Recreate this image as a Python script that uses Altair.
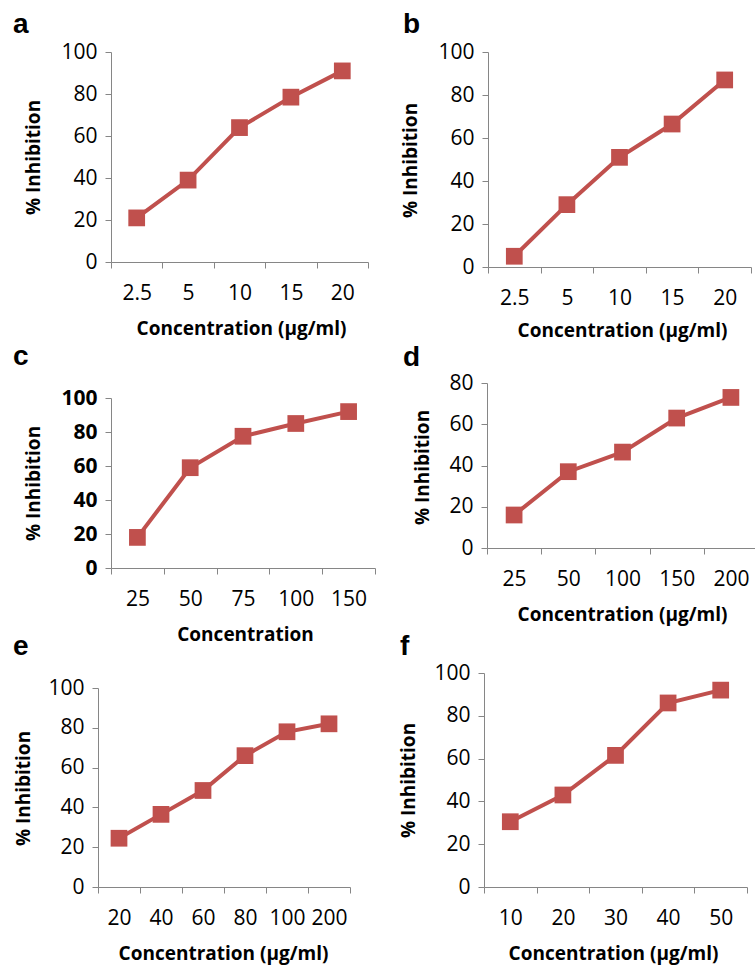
import altair as alt
import pandas as pd

FONT = "Open Sans"
LETTER_FONT = "Liberation Sans"
RED = "#C0504D"
GRAY = "#868686"
W, H = 755, 965

# ---------------- data ----------------
letters = ["a", "b", "c", "d", "e", "f"]

a_conc = ["2.5", "5", "10", "15", "20"]
a_inh = [21, 39, 64, 78.5, 91]

b_conc = ["2.5", "5", "10", "15", "20"]
b_inh = [5, 29, 51, 66.5, 87]

c_conc = ["25", "50", "75", "100", "150"]
c_inh = [18, 59, 77.5, 85, 92]

d_conc = ["25", "50", "100", "150", "200"]
d_inh = [16, 37, 46.5, 63, 73]

e_conc = ["20", "40", "60", "80", "100", "200"]
e_inh = [24.5, 36.5, 48.5, 66, 78, 82]

f_conc = ["10", "20", "30", "40", "50"]
f_inh = [30.5, 43, 61.5, 86, 92]

ticks_100 = [0, 20, 40, 60, 80, 100]
ticks_80 = [0, 20, 40, 60, 80]

x_title_units = "Concentration (\u03bcg/ml)"
x_title_plain = "Concentration"
y_title = "% Inhibition"

# ---------------- layout (pixels) ----------------
panels = [
    dict(cats=a_conc, vals=a_inh, ymax=100, ticks=ticks_100, x0=111, x1=368, yt=52, yb=262,
         xtitle=x_title_units, xt=(241, 328), ytc=(33, 157), bold=False),
    dict(cats=b_conc, vals=b_inh, ymax=100, ticks=ticks_100, x0=488, x1=751, yt=52, yb=267,
         xtitle=x_title_units, xt=(622, 330), ytc=(410, 160), bold=False),
    dict(cats=c_conc, vals=c_inh, ymax=100, ticks=ticks_100, x0=111, x1=375, yt=398, yb=568,
         xtitle=x_title_plain, xt=(245, 634), ytc=(33, 483), bold=True),
    dict(cats=d_conc, vals=d_inh, ymax=80, ticks=ticks_80, x0=487, x1=758, yt=383, yb=548,
         xtitle=x_title_units, xt=(622, 614), ytc=(422, 467), bold=False),
    dict(cats=e_conc, vals=e_inh, ymax=100, ticks=ticks_100, x0=98, x1=350, yt=688, yb=887,
         xtitle=x_title_units, xt=(223, 953), ytc=(23, 788), bold=False),
    dict(cats=f_conc, vals=f_inh, ymax=100, ticks=ticks_100, x0=484, x1=747, yt=673, yb=887,
         xtitle=x_title_units, xt=(613, 953), ytc=(408, 780), bold=False),
]

letter_pos = [(13, 33), (403, 33), (13, 365), (403, 366), (13, 655), (400, 655)]

layers = []
for p in panels:
    df = pd.DataFrame({"conc": p["cats"], "inh": p["vals"]})
    x = alt.X(
        "conc:N",
        sort=p["cats"],
        scale=alt.Scale(type="band", paddingInner=0, paddingOuter=0, range=[p["x0"], p["x1"]]),
        axis=alt.Axis(
            orient="bottom",
            offset=p["yb"] - H,
            title=p["xtitle"],
            titleX=p["xt"][0],
            titleY=p["xt"][1] - p["yb"],
            titleAlign="center",
            titleBaseline="middle",
            tickBand="extent",
            labelAngle=0,
            labelBaseline="middle",
            labelPadding=25,
            labelOverlap=False,
        ),
    )
    y = alt.Y(
        "inh:Q",
        scale=alt.Scale(domain=[0, p["ymax"]], range=[p["yb"], p["yt"]], nice=False, zero=False),
        axis=alt.Axis(
            orient="left",
            offset=-p["x0"],
            values=p["ticks"],
            title=y_title,
            titleX=p["ytc"][0] - p["x0"],
            titleY=p["ytc"][1],
            titleAngle=270,
            titleAlign="center",
            titleBaseline="middle",
            labelPadding=8,
            labelFlush=False,
            labelFontWeight="bold" if p["bold"] else "normal",
        ),
    )
    layers.append(
        alt.Chart(df)
        .mark_line(
            color=RED,
            strokeWidth=4,
            point=alt.OverlayMarkDef(shape="square", size=280, filled=True, color=RED, opacity=1),
        )
        .encode(x=x, y=y)
    )

for letter, (lx, ly) in zip(letters, letter_pos):
    layers.append(
        alt.Chart(pd.DataFrame({"t": [letter]}))
        .mark_text(font=LETTER_FONT, fontWeight="bold", fontSize=28, align="left",
                   baseline="alphabetic", color="black")
        .encode(text="t:N", x=alt.value(lx), y=alt.value(ly))
    )

chart = (
    alt.layer(*layers)
    .resolve_scale(x="independent", y="independent")
    .properties(width=W, height=H, autosize=alt.AutoSizeParams(type="none"), padding=0,
                background="white")
    .configure_view(stroke="transparent")
    .configure_axis(
        grid=False,
        labelFont=FONT,
        labelFontSize=21,
        labelColor="black",
        titleFont=FONT,
        titleFontSize=19,
        titleFontWeight="bold",
        titleColor="black",
        domainColor=GRAY,
        domainWidth=1,
        tickColor=GRAY,
        tickWidth=1,
        tickSize=6,
    )
)

chart.save("out.html", embed_options={"renderer": "svg", "actions": False})
